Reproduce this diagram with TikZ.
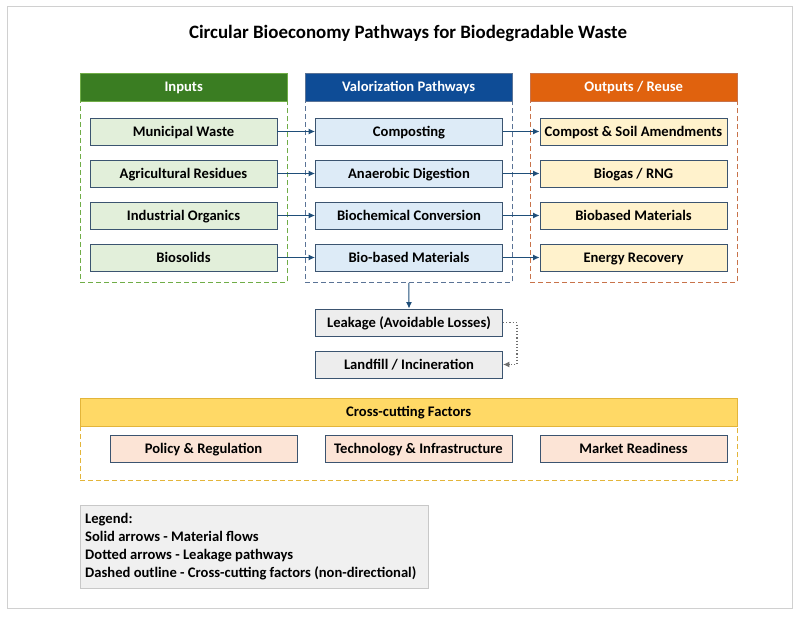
\documentclass[tikz,border=0pt]{standalone}
\usepackage{fontspec}
\setmainfont{Carlito}
\usetikzlibrary{arrows.meta}
\definecolor{frameC}{HTML}{D0D0D0}
\definecolor{nodeB}{HTML}{3B5470}
\definecolor{arrowC}{HTML}{1F4E79}
\definecolor{inHead}{HTML}{3A7D22}
\definecolor{vaHead}{HTML}{0E4C96}
\definecolor{outHead}{HTML}{E0620E}
\definecolor{cfHead}{HTML}{FFD966}
\definecolor{inFill}{HTML}{E2EFDA}
\definecolor{vaFill}{HTML}{DDEBF7}
\definecolor{outFill}{HTML}{FFF2CC}
\definecolor{cfFill}{HTML}{FCE4D6}
\definecolor{lkFill}{HTML}{EDEDED}
\definecolor{inDash}{HTML}{70AD47}
\definecolor{vaDash}{HTML}{5A7396}
\definecolor{outDash}{HTML}{C8734A}
\definecolor{cfDash}{HTML}{E3B53A}
\definecolor{legFill}{HTML}{F0F0F0}
\definecolor{legB}{HTML}{C8C8C8}
\definecolor{dotC}{HTML}{6E6E6E}
\begin{document}
\begin{tikzpicture}[x=1pt,y=-1pt,
  box/.style={draw=nodeB, line width=0.9pt, minimum width=187pt, minimum height=27pt, inner sep=0pt, text height=11.5pt, text depth=2.1pt, font=\bfseries\fontsize{14.6}{17}\selectfont},
  grp/.style={line width=0.9pt, dash pattern=on 5pt off 3pt, anchor=north west, inner sep=0pt},
  head/.style={anchor=north west, inner sep=0pt, minimum height=28pt, text height=11.5pt, text depth=2.1pt, font=\bfseries\fontsize{14.6}{17}\selectfont},
  flow/.style={draw=arrowC, line width=1pt, -{Latex[length=6.5pt,width=6pt]}},
  leakflow/.style={draw=dotC, line width=1.2pt, dotted, -{Latex[length=6.5pt,width=6pt]}}]
\useasboundingbox (0,0) rectangle (800,618);
\draw[frameC, line width=1pt] (7,7) rectangle (792,608);
\node[font=\bfseries\fontsize{18.9}{22}\selectfont] (title) at (408,33) {Circular Bioeconomy Pathways for Biodegradable Waste};
% groups
\node[grp, draw=inDash, minimum width=207pt, minimum height=209pt] (igrp) at (80,73) {};
\node[head, fill=inHead, draw=inDash, text=white, minimum width=207pt] (ihead) at (80,73) {Inputs};
\node[grp, draw=vaDash, minimum width=207pt, minimum height=209pt] (vgrp) at (305,73) {};
\node[head, fill=vaHead, draw=vaDash, text=white, minimum width=207pt] (vhead) at (305,73) {Valorization Pathways};
\node[grp, draw=outDash, minimum width=207pt, minimum height=209pt] (ogrp) at (530,73) {};
\node[head, fill=outHead, draw=outDash, text=white, minimum width=207pt] (ohead) at (530,73) {Outputs / Reuse};
% inputs
\node[box, fill=inFill] (i1) at (183.5,131.5) {Municipal Waste};
\node[box, fill=inFill] (i2) at (183.5,173.5) {Agricultural Residues};
\node[box, fill=inFill] (i3) at (183.5,215.5) {Industrial Organics};
\node[box, fill=inFill] (i4) at (183.5,257.5) {Biosolids};
% valorization
\node[box, fill=vaFill] (v1) at (409,131.5) {Composting};
\node[box, fill=vaFill] (v2) at (409,173.5) {Anaerobic Digestion};
\node[box, fill=vaFill] (v3) at (409,215.5) {Biochemical Conversion};
\node[box, fill=vaFill] (v4) at (409,257.5) {Bio-based Materials};
% outputs
\node[box, fill=outFill] (o1) at (633.5,131.5) {Compost \& Soil Amendments};
\node[box, fill=outFill] (o2) at (633.5,173.5) {Biogas / RNG};
\node[box, fill=outFill] (o3) at (633.5,215.5) {Biobased Materials};
\node[box, fill=outFill] (o4) at (633.5,257.5) {Energy Recovery};
% arrows
\foreach \k in {1,2,3,4}{
  \draw[flow] (i\k.east) -- (v\k.west);
  \draw[flow] (v\k.east) -- (o\k.west);
}
% leakage
\node[box, fill=lkFill] (leak) at (409,322.5) {Leakage (Avoidable Losses)};
\node[box, fill=lkFill] (land) at (409,364.5) {Landfill / Incineration};
\draw[flow] (vgrp.south) -- (leak.north);
\draw[leakflow] (leak.east) -- ++(14,0) |- (land.east);
% cross-cutting
\node[grp, draw=cfDash, minimum width=657pt, minimum height=82pt] (cgrp) at (80,398) {};
\node[head, fill=cfHead, draw=cfDash, text=black, minimum width=657pt] (chead) at (80,398) {Cross-cutting Factors};
\node[box, fill=cfFill] (c1) at (203.5,449) {Policy \& Regulation};
\node[box, fill=cfFill] (c2) at (418.5,449) {Technology \& Infrastructure};
\node[box, fill=cfFill] (c3) at (633.5,449) {Market Readiness};
% legend
\node[draw=legB, fill=legFill, line width=0.9pt, anchor=north west, minimum width=348pt, minimum height=83pt, inner sep=0pt] (legbox) at (80,505) {};
\node[anchor=north west, align=left, inner sep=0pt, font=\bfseries\fontsize{14.6}{17.9}\selectfont] (legtext) at (85,513) {Legend:\\Solid arrows - Material flows\\Dotted arrows - Leakage pathways\\Dashed outline - Cross-cutting factors (non-directional)};
\end{tikzpicture}
\end{document}
